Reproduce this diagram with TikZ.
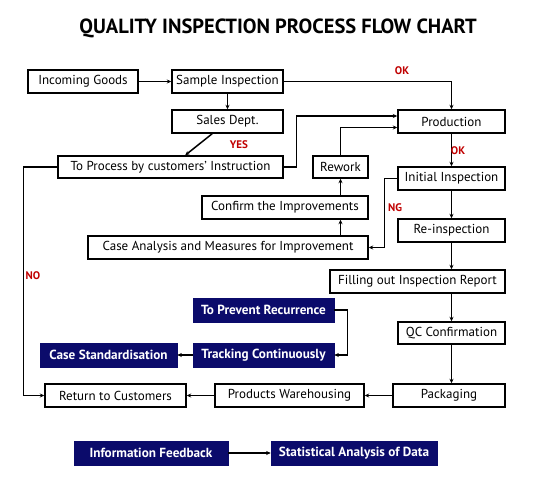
\documentclass[tikz,border=0pt]{standalone}
\usepackage{fontspec}
\setmainfont{PT Sans}
\usepackage{xcolor}
\usepackage{tikz}
\usetikzlibrary{positioning,arrows.meta,calc}
\definecolor{navy}{HTML}{0B0B6B}
\definecolor{okred}{HTML}{C00000}
\tikzset{
  pbox/.style={rectangle, draw=black, fill=white, line width=1.4pt,
    align=center, font=\fontsize{13}{15}\selectfont, minimum height=23pt, inner sep=2pt},
  nbox/.style={rectangle, draw=navy, fill=navy, text=white, line width=0.6pt,
    align=center, font=\fontsize{13.2}{15}\selectfont\bfseries, minimum height=24pt, inner sep=2pt},
  tag/.style={font=\fontsize{11}{13}\selectfont\bfseries, text=okred, inner sep=0pt},
  flow/.style={-{Stealth[length=4.5pt,width=4pt]}, draw=black, line width=1.5pt},
}
\begin{document}
\begin{tikzpicture}[x=1pt, y=-1pt]
\useasboundingbox (0,0) rectangle (536,493);
\node[font=\fontsize{20.5}{24}\selectfont\bfseries] (title) at (278,28.5) {QUALITY INSPECTION PROCESS FLOW CHART};
% main line
\node[pbox, minimum width=110pt] (inc) at (83,81.5) {Incoming Goods};
\node[pbox, minimum width=111pt] (samp) at (227.5,81.5) {Sample Inspection};
\node[pbox, minimum width=111pt] (sales) at (227.5,121.5) {Sales Dept.};
\node[pbox, minimum width=225pt, minimum height=22pt] (proc) at (170.5,167) {To Process by customers' Instruction};
\node[pbox, minimum width=107pt] (prod) at (451.5,121.5) {Production};
\node[pbox, minimum width=107pt] (init) at (451.5,178.5) {Initial Inspection};
\node[pbox, minimum width=55pt, minimum height=22pt] (rework) at (340.5,167) {Rework};
\node[pbox, minimum width=166pt] (confirm) at (285,207.5) {Confirm the Improvements};
\node[pbox, minimum width=280pt] (case) at (228,247.5) {Case Analysis and Measures for Improvement};
\node[pbox, minimum width=107pt] (reinsp) at (451.5,230.5) {Re-inspection};
\node[pbox, minimum width=175pt] (fill) at (417.5,281.5) {Filling out Inspection Report};
\node[pbox, minimum width=107pt, minimum height=22pt] (qc) at (451.5,333) {QC Confirmation};
\node[pbox, minimum width=112pt] (pack) at (449,395.5) {Packaging};
\node[pbox, minimum width=149pt] (ware) at (289.5,395.5) {Products Warehousing};
\node[pbox, minimum width=141pt] (ret) at (115.5,395.5) {Return to Customers};
% dark boxes
\node[nbox, minimum width=141pt] (prev) at (263.5,310) {To Prevent Recurrence};
\node[nbox, minimum width=141pt] (track) at (263.5,355) {Tracking Continuously};
\node[nbox, minimum width=137pt] (cstd) at (108.5,355) {Case Standardisation};
\node[nbox, minimum width=154pt] (info) at (151,453) {Information Feedback};
\node[nbox, minimum width=166pt] (stat) at (354,453) {Statistical Analysis of Data};
% connectors
\draw[flow] (inc) -- (samp);
\draw[flow] (samp) -- (sales);
\draw[flow] (sales) -- (proc);
\draw[flow] (samp.east) -| (prod.north);
\draw[flow] (proc.east) -- ++(13,0) |- ([yshift=5.5pt]prod.west);
\draw[flow] (rework.north) |- ([yshift=-6pt]prod.west);
\draw[flow] (prod) -- (init);
\draw[flow] (init.west) -- ++(-13,0) |- (case.east);
\draw[flow] (case.north -| rework.south) -- (confirm.south -| rework.south);
\draw[flow] (confirm.north -| rework.south) -- (rework.south);
\draw[flow] (init) -- (reinsp);
\draw[flow] (reinsp.south) -- (reinsp.south |- fill.north);
\draw[flow] (fill.south -| qc.north) -- (qc.north);
\draw[flow] (qc.south) -- (qc.south |- pack.north);
\draw[flow] (pack) -- (ware);
\draw[flow] (ware) -- (ret);
\draw[flow] (proc.west) -- ++(-34,0) |- (ret.west);
\draw[flow] (prev.east) -- ++(13,0) |- (track.east);
\draw[flow] (track) -- (cstd);
\draw[flow] (info) -- (stat);
% labels
\node[tag] (yes) at (239,145) {YES};
\node[tag] (ok1) at (402,71) {OK};
\node[tag] (ok2) at (458,151) {OK};
\node[tag] (ng) at (395,208) {NG};
\node[tag] (no) at (33,276) {NO};
\end{tikzpicture}
\end{document}
